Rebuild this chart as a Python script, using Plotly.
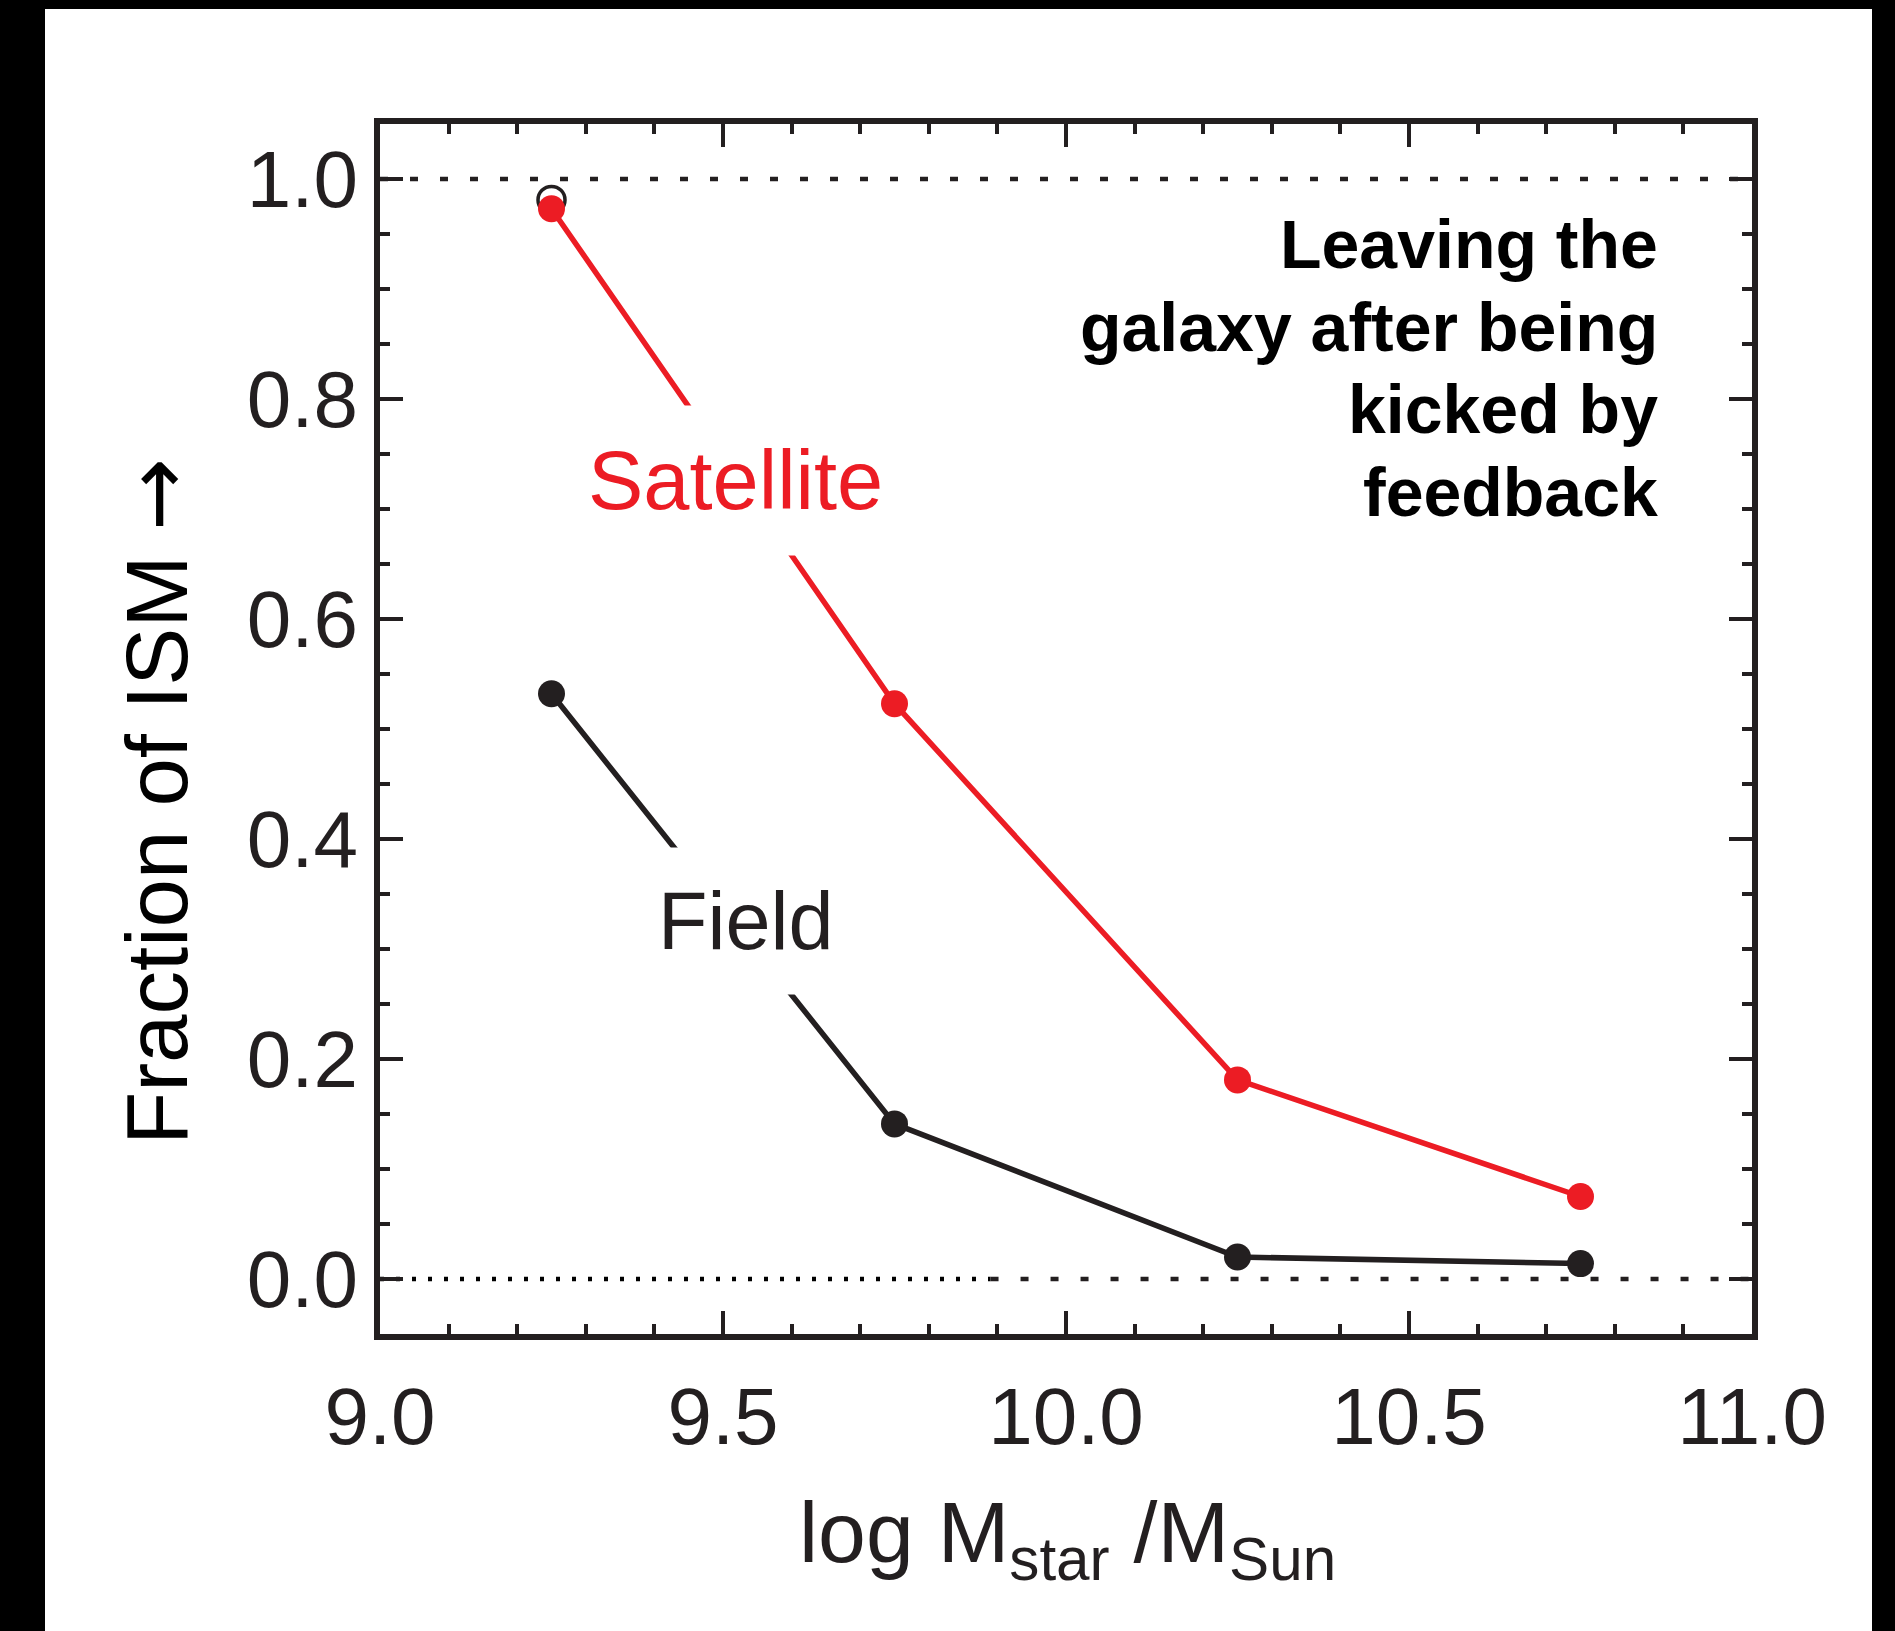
import plotly.graph_objects as go

# ---------------- data ----------------
log_mass = [9.25, 9.75, 10.25, 10.75]
satellite_frac = [0.973, 0.523, 0.181, 0.075]
field_frac = [0.532, 0.141, 0.020, 0.014]
open_marker_x = [9.25]
open_marker_y = [0.981]

x_tick_vals = [9.0, 9.5, 10.0, 10.5, 11.0]
x_tick_text = ["9.0", "9.5", "10.0", "10.5", "11.0"]
y_tick_vals = [0.0, 0.2, 0.4, 0.6, 0.8, 1.0]
y_tick_text = ["0.0", "0.2", "0.4", "0.6", "0.8", "1.0"]

ref_upper = 1.0
ref_lower = 0.0
dotted_end_x = 9.89

info_lines = ["Leaving the", "galaxy after being", "kicked by", "feedback"]

# ---------------- styling ----------------
RED = "#ec1c24"
INK = "#231f20"
FONT = "Liberation Sans, Arial, Helvetica, sans-serif"

W, H = 1895, 1631
L, R, T, B = 380, 1752, 124, 1334  # plot box in pixels


def px_x(px):
    return (px - L) / (R - L)


def px_y(py):
    return (B - py) / (B - T)


fig = go.Figure()

fig.add_trace(go.Scatter(
    x=open_marker_x, y=open_marker_y, mode="markers",
    marker=dict(symbol="circle-open", size=27, color=INK, line=dict(width=3.5, color=INK)),
    hoverinfo="skip", showlegend=False))

fig.add_trace(go.Scatter(
    x=log_mass, y=satellite_frac, mode="lines+markers", name="Satellite",
    line=dict(color=RED, width=5.5),
    marker=dict(size=27, color=RED),
    showlegend=False))

fig.add_trace(go.Scatter(
    x=log_mass, y=field_frac, mode="lines+markers", name="Field",
    line=dict(color=INK, width=5.5),
    marker=dict(size=27, color=INK),
    showlegend=False))

shapes = []
# reference lines
shapes.append(dict(type="line", xref="x", yref="y", x0=x_tick_vals[0], x1=x_tick_vals[-1],
                   y0=ref_upper, y1=ref_upper, layer="below",
                   line=dict(color=INK, width=4.5, dash="8px,22px")))
shapes.append(dict(type="line", xref="x", yref="y", x0=x_tick_vals[0], x1=dotted_end_x,
                   y0=ref_lower, y1=ref_lower, layer="below",
                   line=dict(color="#000000", width=4.5, dash="4px,12px")))
shapes.append(dict(type="line", xref="x", yref="y", x0=dotted_end_x, x1=x_tick_vals[-1],
                   y0=ref_lower, y1=ref_lower, layer="below",
                   line=dict(color=INK, width=4.5, dash="8px,22px")))
# black frame strips of the original picture
for x0, x1, y0, y1 in [(-0.4, px_x(45), -0.4, 1.4),
                       (px_x(1872), 1.4, -0.4, 1.4),
                       (-0.4, 1.4, px_y(9), 1.4)]:
    shapes.append(dict(type="rect", xref="paper", yref="paper", x0=x0, x1=x1, y0=y0, y1=y1,
                       fillcolor="#000000", line=dict(width=0), layer="above"))

annotations = []
annotations.append(dict(text="Satellite", x=9.5175, y=0.7255, xref="x", yref="y",
                        showarrow=False, font=dict(family=FONT, size=83, color=RED),
                        bgcolor="#ffffff", borderpad=28, xanchor="center", yanchor="middle"))
annotations.append(dict(text="Field", x=9.5335, y=0.3255, xref="x", yref="y",
                        showarrow=False, font=dict(family=FONT, size=81, color=INK),
                        bgcolor="#ffffff", borderpad=28, xanchor="center", yanchor="middle"))
line_y0 = 0.941
line_step = 0.0752
for i, t in enumerate(info_lines):
    annotations.append(dict(text="<b>" + t + "</b>", x=10.866, y=line_y0 - i * line_step,
                            xref="x", yref="y", showarrow=False, xanchor="right", yanchor="middle",
                            font=dict(family=FONT, size=68, color="#000000")))
annotations.append(dict(text="Fraction of ISM <span style='font-family:DejaVu Sans'>\u2192</span>",
                        x=px_x(157), y=px_y(802),
                        xref="paper", yref="paper", textangle=-90, showarrow=False,
                        xanchor="center", yanchor="middle",
                        font=dict(family=FONT, size=87, color="#000000")))
annotations.append(dict(text="log M<sub>star</sub> /M<sub>Sun</sub>", x=px_x(1067), y=px_y(1538),
                        xref="paper", yref="paper", showarrow=False,
                        xanchor="center", yanchor="middle",
                        font=dict(family=FONT, size=86, color=INK)))

axis_common = dict(
    showline=True, linewidth=6, linecolor=INK, mirror="ticks",
    ticks="inside", ticklen=23, tickwidth=4, tickcolor=INK,
    showgrid=False, zeroline=False,
    tickfont=dict(family=FONT, size=80, color=INK),
)

fig.update_xaxes(range=[9.0, 11.0], tickmode="array", tickvals=x_tick_vals, ticktext=x_tick_text,
                 minor=dict(dtick=0.1, ticks="inside", ticklen=10, tickwidth=4, tickcolor=INK, showgrid=False),
                 ticklabelstandoff=8, **axis_common)
fig.update_yaxes(range=[-0.05, 1.05], tickmode="array", tickvals=y_tick_vals, ticktext=y_tick_text,
                 minor=dict(dtick=0.05, ticks="inside", ticklen=10, tickwidth=4, tickcolor=INK, showgrid=False),
                 ticklabelstandoff=0, **axis_common)

fig.update_layout(
    width=W, height=H,
    margin=dict(l=L, r=W - R, t=T, b=H - B, pad=0),
    paper_bgcolor="#ffffff", plot_bgcolor="#ffffff",
    shapes=shapes, annotations=annotations,
    showlegend=False,
)

fig.write_html("out.html")
